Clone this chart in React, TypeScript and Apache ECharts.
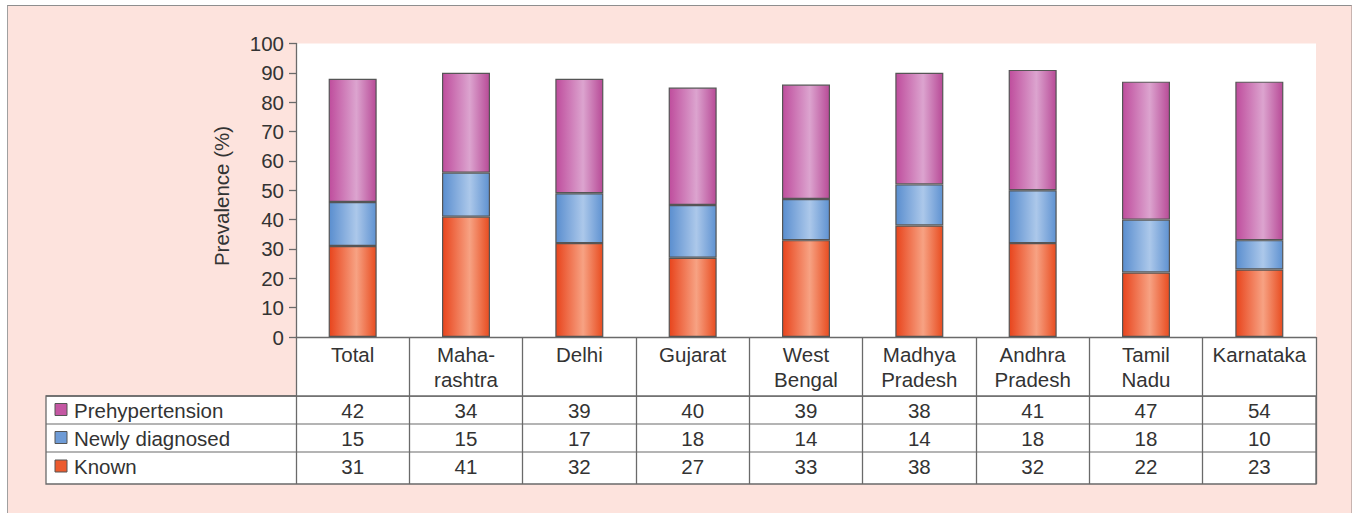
import React, { useEffect, useRef } from 'react';
import * as echarts from 'echarts';

const categories = ['Total', 'Maha-\nrashtra', 'Delhi', 'Gujarat', 'West\nBengal', 'Madhya\nPradesh', 'Andhra\nPradesh', 'Tamil\nNadu', 'Karnataka'];
const rowNames = ['Prehypertension', 'Newly diagnosed', 'Known'];
const prehypertension = [42, 34, 39, 40, 39, 38, 41, 47, 54];
const newlyDiagnosed = [15, 15, 17, 18, 14, 14, 18, 18, 10];
const known = [31, 41, 32, 27, 33, 38, 32, 22, 23];
const yTicks = { min: 0, max: 100, interval: 10 };
const yAxisTitle = 'Prevalence (%)';

const FONT = 'Liberation Sans';
const FS = 20.5;
const TEXT = '#333333';
const LINE = '#6a6a6a';

const grad = (edgeL: string, mid: string, edgeR: string) =>
  new echarts.graphic.LinearGradient(0, 0, 1, 0, [
    { offset: 0, color: edgeL },
    { offset: 0.58, color: mid },
    { offset: 1, color: edgeR },
  ]);

const knownFill = () => grad('#e8441c', '#f7a283', '#e84c20');
const newlyFill = () => grad('#5a8ecf', '#acc8ea', '#5f92d1');
const preFill = () => grad('#bf4d9d', '#dca4cf', '#b84b97');

const legendColors = ['#c457a3', '#6e9bd6', '#ec5a2e'];

export default function App() {
  const ref = useRef<HTMLDivElement>(null);

  useEffect(() => {
    const chart = echarts.init(ref.current!, null, { renderer: 'svg' });
    const gridLeft = 296;
    const gridTop = 43.5;
    const gridRight = 1316;
    const gridBottom = 337;

    chart.setOption({
      animation: false,
      backgroundColor: 'transparent',
      textStyle: { fontFamily: FONT },
      grid: {
        left: gridLeft,
        top: gridTop,
        width: gridRight - gridLeft,
        height: gridBottom - gridTop,
        show: true,
        backgroundColor: '#ffffff',
        borderWidth: 0,
      },
      xAxis: {
        type: 'category',
        data: categories,
        boundaryGap: true,
        axisLine: { show: true, lineStyle: { color: LINE, width: 1.3 } },
        axisTick: { show: true, alignWithLabel: false, length: 147, lineStyle: { color: LINE, width: 1.3 } },
        axisLabel: {
          show: true,
          interval: 0,
          color: TEXT,
          fontFamily: FONT,
          fontSize: FS,
          lineHeight: 25,
          margin: 5,
          verticalAlign: 'top',
        },
        splitLine: { show: false },
      },
      yAxis: {
        type: 'value',
        min: yTicks.min,
        max: yTicks.max,
        interval: yTicks.interval,
        axisLine: { show: true, lineStyle: { color: LINE, width: 1.3 } },
        axisTick: { show: true, inside: false, length: 7, lineStyle: { color: LINE, width: 1.3 } },
        axisLabel: { color: TEXT, fontFamily: FONT, fontSize: FS, margin: 12 },
        splitLine: { show: false },
      },
      series: [
        {
          name: 'Known',
          type: 'bar',
          stack: 'all',
          data: known,
          barWidth: 48,
          itemStyle: { color: knownFill(), borderColor: '#555555', borderWidth: 1.2 },
        },
        {
          name: 'Newly diagnosed',
          type: 'bar',
          stack: 'all',
          data: newlyDiagnosed,
          barWidth: 48,
          itemStyle: { color: newlyFill(), borderColor: '#555555', borderWidth: 1.2 },
        },
        {
          name: 'Prehypertension',
          type: 'bar',
          stack: 'all',
          data: prehypertension,
          barWidth: 48,
          itemStyle: { color: preFill(), borderColor: '#555555', borderWidth: 1.2 },
        },
      ],
    });

    const xs = categories.map((_, i) => chart.convertToPixel({ xAxisIndex: 0 }, i) as number);
    const tableLeft = 46;
    const rowEdges = [396, 424, 452, 484];
    const rows = [prehypertension, newlyDiagnosed, known];
    const graphics: any[] = [];

    graphics.push({
      type: 'text',
      z: 6,
      x: 221,
      y: 196,
      rotation: Math.PI / 2,
      style: { text: yAxisTitle, fill: TEXT, fontFamily: FONT, fontSize: FS, align: 'center', verticalAlign: 'middle' },
    });
    graphics.push({
      type: 'rect',
      z: -1,
      shape: { x: tableLeft, y: rowEdges[0], width: gridRight - tableLeft, height: rowEdges[3] - rowEdges[0] },
      style: { fill: '#ffffff', stroke: LINE, lineWidth: 1.3 },
    });
    graphics.push({
      type: 'rect',
      z: -1,
      shape: { x: gridLeft, y: gridBottom, width: gridRight - gridLeft, height: rowEdges[0] - gridBottom },
      style: { fill: '#ffffff' },
    });
    for (let r = 0; r < 3; r++) {
      graphics.push({
        type: 'line',
        z: 5,
        shape: { x1: tableLeft, y1: rowEdges[r], x2: gridRight, y2: rowEdges[r] },
        style: { stroke: LINE, lineWidth: r === 0 ? 1.3 : 1.2 },
      });
    }

    rows.forEach((vals, r) => {
      const cy = (rowEdges[r] + rowEdges[r + 1]) / 2 + (r === 2 ? -1.5 : 0);
      graphics.push({
        type: 'rect',
        z: 6,
        shape: { x: 55, y: cy - 6.5, width: 12, height: 12 },
        style: { fill: legendColors[r], stroke: '#555555', lineWidth: 1 },
      });
      graphics.push({
        type: 'text',
        z: 6,
        x: 74,
        y: cy,
        style: { text: rowNames[r], fill: TEXT, fontFamily: FONT, fontSize: FS, align: 'left', verticalAlign: 'middle' },
      });
      vals.forEach((v, i) => {
        graphics.push({
          type: 'text',
          z: 6,
          x: xs[i],
          y: cy,
          style: { text: String(v), fill: TEXT, fontFamily: FONT, fontSize: FS, align: 'center', verticalAlign: 'middle' },
        });
      });
    });

    chart.setOption({ graphic: graphics });

    return () => chart.dispose();
  }, []);

  return (
    <div style={{ position: 'fixed', left: 0, top: 0, width: 1358, height: 513, background: '#ffffff', overflow: 'hidden' }}>
      <div
        style={{
          position: 'absolute',
          left: 7,
          top: 5,
          width: 1345,
          height: 510,
          background: '#fde3dd',
          borderTop: '1.5px solid #8e8e8e',
          borderLeft: '1.5px solid #a0a0a0',
          borderRight: '1.5px solid #c8b4b0',
          boxSizing: 'border-box',
        }}
      />
      <div ref={ref} style={{ position: 'absolute', left: 0, top: 0, width: 1358, height: 513 }} />
    </div>
  );
}
